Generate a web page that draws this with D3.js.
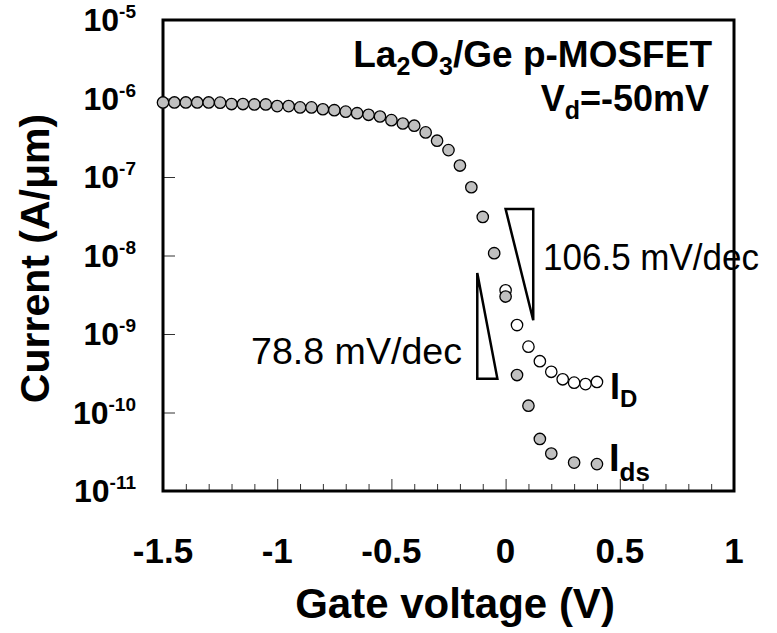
<!DOCTYPE html>
<html>
<head>
<meta charset="utf-8">
<script src="https://cdn.jsdelivr.net/npm/d3@7"></script>
<style>
body { margin: 0; background: #fff; }
svg { display: block; font-family: "Liberation Sans", Arial, sans-serif; }
</style>
</head>
<body>
<div id="chart"></div>
<script>
// gate voltage (V) and drain current Ids (A/um), grey filled points
const vgIds = [-1.5, -1.45, -1.4, -1.35, -1.3, -1.25, -1.2, -1.15, -1.1, -1.05,
               -1.0, -0.95, -0.9, -0.85, -0.8, -0.75, -0.7, -0.65, -0.6, -0.55,
               -0.5, -0.45, -0.4, -0.35, -0.3, -0.25, -0.2, -0.15, -0.1, -0.05,
               0, 0.05, 0.1, 0.15, 0.2, 0.3, 0.4];
const ids = [8.9e-7, 8.9e-7, 8.9e-7, 8.9e-7, 8.9e-7, 8.85e-7, 8.5e-7, 8.5e-7, 8.4e-7, 8.4e-7,
             8.0e-7, 8.0e-7, 7.7e-7, 7.7e-7, 7.3e-7, 7.1e-7, 6.8e-7, 6.5e-7, 6.2e-7, 5.9e-7,
             5.3e-7, 4.8e-7, 4.5e-7, 3.7e-7, 2.9e-7, 2.2e-7, 1.4e-7, 7.4e-8, 3.1e-8, 1.07e-8,
             3.0e-9, 3.0e-10, 1.22e-10, 4.6e-11, 3.0e-11, 2.3e-11, 2.2e-11];

// I_D, open points (visible part only)
const vgId = [0, 0.05, 0.1, 0.15, 0.2, 0.25, 0.3, 0.35, 0.4];
const idOpen = [3.6e-9, 1.3e-9, 6.9e-10, 4.5e-10, 3.3e-10, 2.65e-10, 2.4e-10, 2.3e-10, 2.45e-10];

// axis ticks
const xMajor = [-1.5, -1, -0.5, 0, 0.5, 1];
const xMinor = [-1.4, -1.3, -1.2, -1.1, -0.9, -0.8, -0.7, -0.6, -0.4, -0.3, -0.2, -0.1,
                0.1, 0.2, 0.3, 0.4, 0.6, 0.7, 0.8, 0.9];
const yExp = [-5, -6, -7, -8, -9, -10, -11];

// slope triangles [V, I] corners
const tri106 = [[0.0, 3.9e-8], [0.121, 3.9e-8], [0.121, 1.5e-9]];
const tri78 = [[-0.124, 6.0e-9], [-0.124, 2.7e-10], [-0.036, 2.7e-10]];

const width = 777;
const height = 633;
const mLeft = 163, mRight = 734, mTop = 20, mBottom = 491;

let svg = d3.select("#chart")
    .append("svg")
    .attr("width", width)
    .attr("height", height);

let xScale = d3.scaleLinear().domain([-1.5, 1]).range([mLeft, mRight]);
let yScale = d3.scaleLog().domain([1e-11, 1e-5]).range([mBottom, mTop]);

// ticks, pointing inwards
svg.append("g")
    .attr("transform", `translate(0, ${mBottom})`)
    .call(d3.axisBottom(xScale).tickValues(xMinor).tickSize(-7).tickFormat(""))
    .call(g => g.select(".domain").remove())
    .selectAll("line").attr("stroke", "#333").attr("stroke-width", 1);

svg.append("g")
    .attr("transform", `translate(0, ${mBottom})`)
    .call(d3.axisBottom(xScale).tickValues(xMajor).tickSize(-12).tickFormat(""))
    .call(g => g.select(".domain").remove())
    .selectAll("line").attr("stroke", "#333").attr("stroke-width", 1);

svg.append("g")
    .attr("transform", `translate(${mLeft}, 0)`)
    .call(d3.axisLeft(yScale).tickValues(yExp.map(e => Math.pow(10, e))).tickSize(-12).tickFormat(""))
    .call(g => g.select(".domain").remove())
    .selectAll("line").attr("stroke", "#333").attr("stroke-width", 1);

// frame
svg.append("rect")
    .attr("x", mLeft)
    .attr("y", mTop)
    .attr("width", mRight - mLeft)
    .attr("height", mBottom - mTop)
    .attr("fill", "none")
    .attr("stroke", "#000")
    .attr("stroke-width", 3);

// x tick labels
svg.selectAll("text.xlab")
    .data(xMajor)
    .join("text")
    .classed("xlab", true)
    .attr("x", d => xScale(d))
    .attr("y", 563)
    .attr("text-anchor", "middle")
    .style("font-size", "35px")
    .style("font-weight", "bold")
    .text(d => String(d));

// y tick labels 10^n
let ylab = svg.selectAll("text.ylab")
    .data(yExp)
    .join("text")
    .classed("ylab", true)
    .attr("x", 136)
    .attr("y", d => yScale(Math.pow(10, d)) + 11)
    .attr("text-anchor", "end")
    .style("font-weight", "bold");
ylab.append("tspan").style("font-size", "32px").text("10");
ylab.append("tspan").style("font-size", "19px").attr("dy", -13).text(d => String(d));

// axis titles
svg.append("text")
    .attr("x", 455)
    .attr("y", 618)
    .attr("text-anchor", "middle")
    .style("font-size", "42px")
    .style("font-weight", "bold")
    .text("Gate voltage (V)");

svg.append("text")
    .attr("transform", `translate(49, ${(mTop + mBottom) / 2 + 3}) rotate(-90)`)
    .attr("text-anchor", "middle")
    .style("font-size", "41px")
    .style("font-weight", "bold")
    .text("Current (A/\u03bcm)");

// slope triangles
let line = d3.line().x(d => xScale(d[0])).y(d => yScale(d[1]));
svg.selectAll("path.tri")
    .data([tri106, tri78])
    .join("path")
    .classed("tri", true)
    .attr("d", d => line(d) + "Z")
    .attr("fill", "#fff")
    .attr("stroke", "#000")
    .attr("stroke-width", 2.5)
    .attr("stroke-linejoin", "miter");

svg.append("text")
    .attr("x", 543)
    .attr("y", 270)
    .attr("textLength", 216)
    .attr("lengthAdjust", "spacingAndGlyphs")
    .style("font-size", "36px")
    .text("106.5 mV/dec");

svg.append("text")
    .attr("x", 251)
    .attr("y", 364)
    .attr("textLength", 211)
    .attr("lengthAdjust", "spacingAndGlyphs")
    .style("font-size", "36px")
    .text("78.8 mV/dec");

// data points
let idPts = vgId.map((v, i) => ({v: v, c: idOpen[i]}));
let idsPts = vgIds.map((v, i) => ({v: v, c: ids[i]}));

svg.selectAll("circle.open")
    .data(idPts)
    .join("circle")
    .classed("open", true)
    .attr("cx", d => xScale(d.v))
    .attr("cy", d => yScale(d.c))
    .attr("r", 5.7)
    .attr("fill", "#fff")
    .attr("stroke", "#000")
    .attr("stroke-width", 1.3);

svg.selectAll("circle.ids")
    .data(idsPts)
    .join("circle")
    .classed("ids", true)
    .attr("cx", d => xScale(d.v))
    .attr("cy", d => yScale(d.c))
    .attr("r", 5.7)
    .attr("fill", "#c0c0c0")
    .attr("stroke", "#000")
    .attr("stroke-width", 1.3);

// curve labels
let lD = svg.append("text").attr("x", 610).attr("y", 399).style("font-weight", "bold");
lD.append("tspan").style("font-size", "36px").text("I");
lD.append("tspan").style("font-size", "24px").attr("dy", 8).text("D");

let lds = svg.append("text").attr("x", 609).attr("y", 471).style("font-weight", "bold");
lds.append("tspan").style("font-size", "38px").text("I");
lds.append("tspan").style("font-size", "26px").attr("dy", 10).text("ds");

// title
let t1 = svg.append("text").attr("x", 712).attr("y", 67).attr("text-anchor", "end")
    .style("font-weight", "bold").style("font-size", "37px");
t1.append("tspan").text("La");
t1.append("tspan").style("font-size", "25px").attr("dy", 8).text("2");
t1.append("tspan").attr("dy", -8).text("O");
t1.append("tspan").style("font-size", "25px").attr("dy", 8).text("3");
t1.append("tspan").attr("dy", -8).text("/Ge p-MOSFET");

let t2 = svg.append("text").attr("x", 709).attr("y", 111).attr("text-anchor", "end")
    .style("font-weight", "bold").style("font-size", "36px");
t2.append("tspan").text("V");
t2.append("tspan").style("font-size", "25px").attr("dy", 8).text("d");
t2.append("tspan").attr("dy", -8).text("=-50mV");
</script>
</body>
</html>
